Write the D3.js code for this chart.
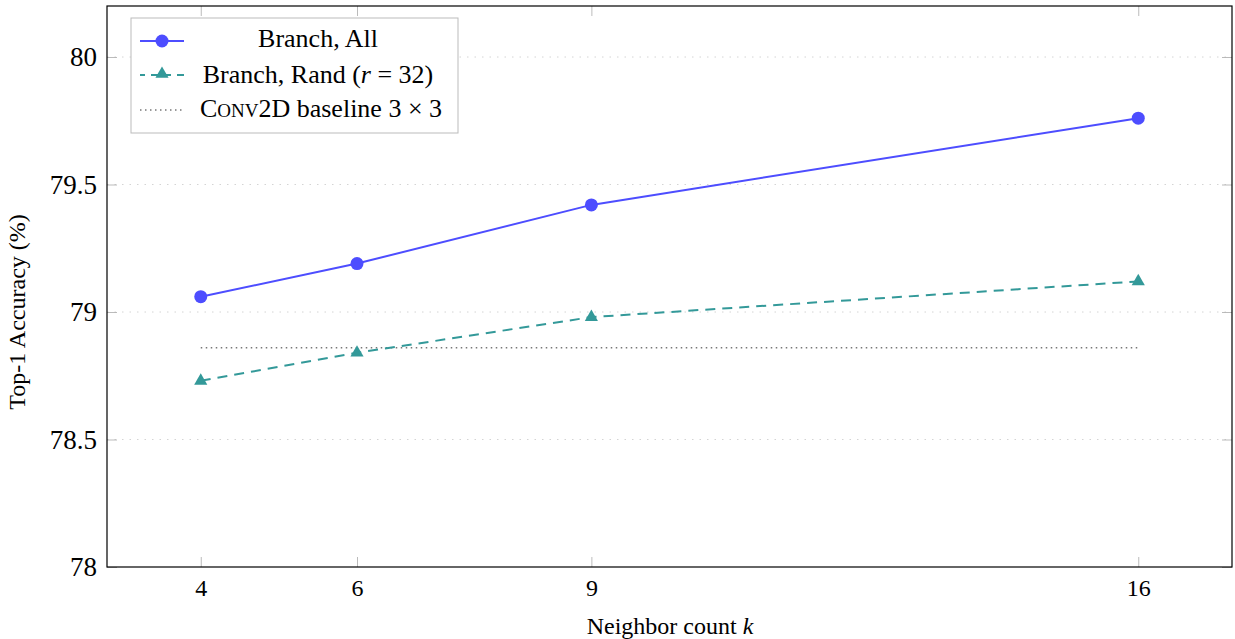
<!DOCTYPE html>
<html><head><meta charset="utf-8">
<script src="https://cdn.jsdelivr.net/npm/d3@7"></script>
<style>body{margin:0;background:#fff}svg{display:block}text{font-family:"Liberation Serif","DejaVu Serif",serif}</style>
</head><body><svg id="c" width="1235" height="639"></svg>
<script>
const kValues = [4, 6, 9, 16];
const branchAll = [79.06, 79.19, 79.42, 79.76];
const branchRand = [78.73, 78.84, 78.98, 79.12];
const baseline = 78.86;
const yTicks = [78, 78.5, 79, 79.5, 80];
const xTicks = [4, 6, 9, 16];

const svg = d3.select("#c");
const L = 107, R = 1232, T = 6, B = 567;
const x = d3.scaleLinear().domain([2.8, 17.2]).range([L, R]);
const y = d3.scaleLinear().domain([78, 80.2]).range([B, T]);

// grid
svg.append("g").selectAll("line").data(yTicks.slice(1)).join("line")
  .attr("x1", L).attr("x2", R).attr("y1", d => y(d)).attr("y2", d => y(d))
  .attr("stroke", "#d4d4d4").attr("stroke-width", 1).attr("stroke-dasharray", "1.5,6");

// axes
const xb = svg.append("g").attr("transform", `translate(0,${B})`)
  .call(d3.axisBottom(x).tickValues(xTicks).tickSizeInner(-10).tickSizeOuter(0).tickPadding(12).tickFormat(d3.format("d")));
const xt = svg.append("g").attr("transform", `translate(0,${T})`)
  .call(d3.axisTop(x).tickValues(xTicks).tickSizeInner(-10).tickSizeOuter(0).tickFormat(""));
const yl = svg.append("g").attr("transform", `translate(${L},0)`)
  .call(d3.axisLeft(y).tickValues(yTicks).tickSizeInner(-10).tickSizeOuter(0).tickPadding(10).tickFormat(d => String(d)));
const yr = svg.append("g").attr("transform", `translate(${R},0)`)
  .call(d3.axisRight(y).tickValues(yTicks).tickSizeInner(-10).tickSizeOuter(0).tickFormat(""));
[xb, xt, yl, yr].forEach(g => {
  g.select(".domain").remove();
  g.selectAll(".tick line").attr("stroke", "#aaa").attr("stroke-width", 0.8);
  g.selectAll("text").attr("fill", "#000").attr("font-family", "Liberation Serif");
});
xb.selectAll("text").attr("font-size", 24);
yl.selectAll("text").attr("font-size", 27);
svg.append("rect").attr("x", L).attr("y", T).attr("width", R - L).attr("height", B - T)
  .attr("fill", "none").attr("stroke", "#000").attr("stroke-width", 1.2);

// baseline
svg.append("line").attr("x1", x(4)).attr("x2", x(16)).attr("y1", y(baseline)).attr("y2", y(baseline))
  .attr("stroke", "#777").attr("stroke-width", 1.5).attr("stroke-dasharray", "1.5,3.5");

const line = d3.line().x((d, i) => x(kValues[i])).y(d => y(d));
const blue = "#4d4dff", teal = "#339999";

svg.append("path").datum(branchRand).attr("d", line).attr("fill", "none")
  .attr("stroke", teal).attr("stroke-width", 2).attr("stroke-dasharray", "10,7");
const tri = d3.symbol().type(d3.symbolTriangle).size(75);
svg.append("g").selectAll("path").data(branchRand).join("path")
  .attr("d", tri).attr("transform", (d, i) => `translate(${x(kValues[i])},${y(d)})`).attr("fill", teal);

svg.append("path").datum(branchAll).attr("d", line).attr("fill", "none")
  .attr("stroke", blue).attr("stroke-width", 2);
svg.append("g").selectAll("circle").data(branchAll).join("circle")
  .attr("cx", (d, i) => x(kValues[i])).attr("cy", d => y(d)).attr("r", 6.5).attr("fill", blue);

// axis labels
const xl = svg.append("text").attr("x", 670).attr("y", 634).attr("text-anchor", "middle").attr("font-size", 24);
xl.append("tspan").text("Neighbor count ");
xl.append("tspan").attr("font-style", "italic").text("k");
svg.append("text").attr("transform", "translate(25,312) rotate(-90)").attr("text-anchor", "middle")
  .attr("font-size", 24).text("Top-1 Accuracy (%)");

// legend
const lg = svg.append("g");
lg.append("rect").attr("x", 131).attr("y", 18).attr("width", 327).attr("height", 115)
  .attr("fill", "#fff").attr("stroke", "#bbb").attr("stroke-width", 1);
const rows = [41, 75, 110];
lg.append("line").attr("x1", 140).attr("x2", 184).attr("y1", rows[0]).attr("y2", rows[0]).attr("stroke", blue).attr("stroke-width", 2);
lg.append("circle").attr("cx", 162).attr("cy", rows[0]).attr("r", 6.5).attr("fill", blue);
lg.append("line").attr("x1", 140).attr("x2", 184).attr("y1", rows[1]).attr("y2", rows[1]).attr("stroke", teal).attr("stroke-width", 2).attr("stroke-dasharray", "7,6").attr("stroke-dashoffset", 2);
lg.append("path").attr("d", tri).attr("transform", `translate(162,${rows[1] - 1})`).attr("fill", teal);
lg.append("line").attr("x1", 140).attr("x2", 184).attr("y1", rows[2]).attr("y2", rows[2]).attr("stroke", "#777").attr("stroke-width", 1.5).attr("stroke-dasharray", "1.5,3.5");

const fs = 26;
const t1 = lg.append("text").attr("x", 318).attr("y", 47).attr("text-anchor", "middle").attr("font-size", fs).text("Branch, All");
const t2 = lg.append("text").attr("x", 318).attr("y", 82.5).attr("text-anchor", "middle").attr("font-size", fs);
t2.append("tspan").text("Branch, Rand (");
t2.append("tspan").attr("font-style", "italic").text("r");
t2.append("tspan").text(" = 32)");
const t3 = lg.append("text").attr("x", 321).attr("y", 117).attr("text-anchor", "middle").attr("font-size", fs);
t3.append("tspan").text("C");
t3.append("tspan").attr("font-size", 19).text("ONV");
t3.append("tspan").text("2D baseline 3 × 3");
</script></body></html>
